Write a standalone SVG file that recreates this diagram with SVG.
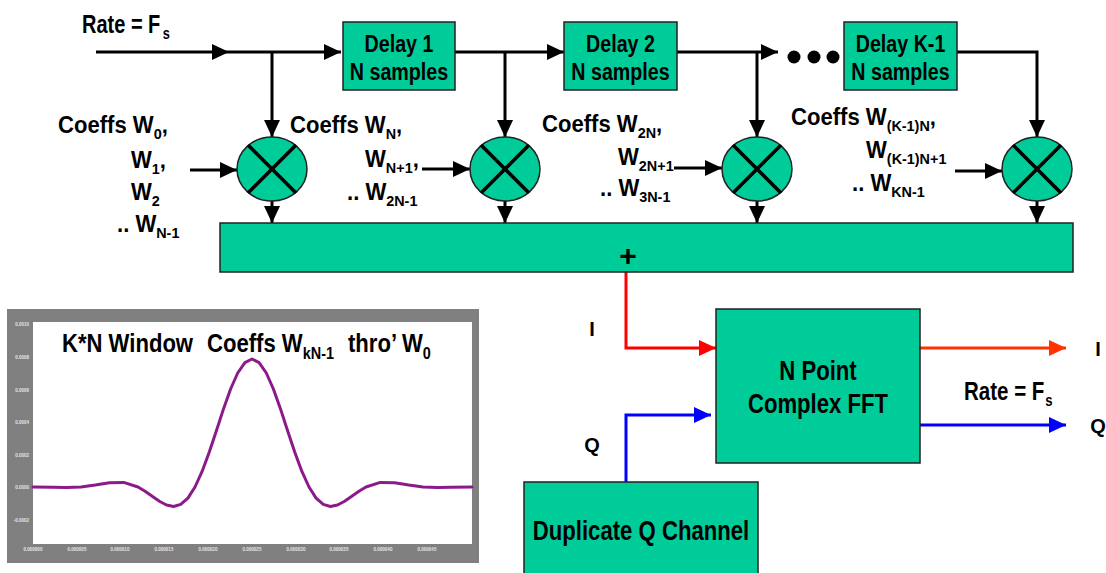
<svg xmlns="http://www.w3.org/2000/svg" width="1106" height="573" viewBox="0 0 1106 573">
<style>
.t{font-family:"Liberation Sans",Arial,sans-serif;font-weight:700;fill:#000}
.box{fill:#00CC99;stroke:#222;stroke-width:1.5}
.ln{fill:none;stroke:#000;stroke-width:3}
.xl{stroke:#000;stroke-width:3.5}
.tk{font-family:"Liberation Sans",Arial,sans-serif;font-size:4.5px;fill:#e6e6e6;font-weight:700}
</style>
<defs>
<marker id="ah" markerUnits="userSpaceOnUse" markerWidth="17" markerHeight="16" refX="17" refY="8" orient="auto"><path d="M0,0 L17,8 L0,16 z" fill="#000"/></marker>
<marker id="ahr" markerUnits="userSpaceOnUse" markerWidth="17" markerHeight="16" refX="17" refY="8" orient="auto"><path d="M0,0 L17,8 L0,16 z" fill="#FF0000"/></marker>
<marker id="aho" markerUnits="userSpaceOnUse" markerWidth="17" markerHeight="16" refX="17" refY="8" orient="auto"><path d="M0,0 L17,8 L0,16 z" fill="#FF3300"/></marker>
<marker id="ahb" markerUnits="userSpaceOnUse" markerWidth="17" markerHeight="16" refX="17" refY="8" orient="auto"><path d="M0,0 L17,8 L0,16 z" fill="#0000FF"/></marker>
</defs>
<rect width="1106" height="573" fill="#fff"/>

<g id="connectors">
<path class="ln" d="M96,52 H229" marker-end="url(#ah)"/>
<path class="ln" d="M229,52 H341" marker-end="url(#ah)"/>
<path class="ln" d="M272,52 V137" marker-end="url(#ah)"/>
<path class="ln" d="M455,52 H564" marker-end="url(#ah)"/>
<path class="ln" d="M505,52 V137" marker-end="url(#ah)"/>
<path class="ln" d="M677,52 H778" marker-end="url(#ah)"/>
<path class="ln" d="M757,52 V137" marker-end="url(#ah)"/>
<path class="ln" d="M957,52 H1037 V137" marker-end="url(#ah)"/>
<path class="ln" d="M190,170 H237" marker-end="url(#ah)"/>
<path class="ln" d="M422,169 H470" marker-end="url(#ah)"/>
<path class="ln" d="M674,168 H722" marker-end="url(#ah)"/>
<path class="ln" d="M955,171 H1002" marker-end="url(#ah)"/>
<path class="ln" d="M272,201 V223" marker-end="url(#ah)"/>
<path class="ln" d="M505,201 V223" marker-end="url(#ah)"/>
<path class="ln" d="M757,201 V223" marker-end="url(#ah)"/>
<path class="ln" d="M1037,201 V223" marker-end="url(#ah)"/>
<path d="M626,272 V348 H716" fill="none" stroke="#FF0000" stroke-width="3" marker-end="url(#ahr)"/>
<path d="M626,482 V415 H711" fill="none" stroke="#0000FF" stroke-width="3" marker-end="url(#ahb)"/>
<path d="M920,348 H1066" fill="none" stroke="#FF3300" stroke-width="3" marker-end="url(#aho)"/>
<path d="M920,425 H1066" fill="none" stroke="#0000FF" stroke-width="3" marker-end="url(#ahb)"/>
<circle cx="794" cy="57" r="6.5"/>
<circle cx="814" cy="57" r="6.5"/>
<circle cx="833" cy="57" r="6.5"/>
</g>

<g id="delay1">
<rect class="box" x="343" y="22" width="112" height="68"/>
<text class="t" font-size="24" text-anchor="middle" transform="translate(399,52) scale(0.82,1)">Delay 1</text>
<text class="t" font-size="24" text-anchor="middle" transform="translate(399,80) scale(0.82,1)">N samples</text>
</g>
<g id="delay2">
<rect class="box" x="564" y="22" width="113" height="68"/>
<text class="t" font-size="24" text-anchor="middle" transform="translate(620.5,52) scale(0.82,1)">Delay 2</text>
<text class="t" font-size="24" text-anchor="middle" transform="translate(620.5,80) scale(0.82,1)">N samples</text>
</g>
<g id="delayK1">
<rect class="box" x="844" y="22" width="113" height="68"/>
<text class="t" font-size="24" text-anchor="middle" transform="translate(900.5,52) scale(0.82,1)">Delay K-1</text>
<text class="t" font-size="24" text-anchor="middle" transform="translate(900.5,80) scale(0.82,1)">N samples</text>
</g>

<g id="mult1">
<ellipse class="box" cx="272" cy="169" rx="35" ry="32"/>
<line class="xl" x1="248" y1="145" x2="296" y2="193"/><line class="xl" x1="296" y1="145" x2="248" y2="193"/>
</g>
<g id="mult2">
<ellipse class="box" cx="505" cy="169" rx="35" ry="32"/>
<line class="xl" x1="481" y1="145" x2="529" y2="193"/><line class="xl" x1="529" y1="145" x2="481" y2="193"/>
</g>
<g id="mult3">
<ellipse class="box" cx="757" cy="169" rx="35" ry="32"/>
<line class="xl" x1="733" y1="145" x2="781" y2="193"/><line class="xl" x1="781" y1="145" x2="733" y2="193"/>
</g>
<g id="mult4">
<ellipse class="box" cx="1037" cy="169" rx="35" ry="32"/>
<line class="xl" x1="1013" y1="145" x2="1061" y2="193"/><line class="xl" x1="1061" y1="145" x2="1013" y2="193"/>
</g>

<g id="sum">
<rect class="box" x="220" y="223" width="853" height="49"/>
<text class="t" font-size="30" text-anchor="middle" x="628" y="266">+</text>
</g>

<g id="fft">
<rect class="box" x="716" y="309" width="204" height="154"/>
<text class="t" font-size="27" text-anchor="middle" transform="translate(818,380) scale(0.82,1)">N Point</text>
<text class="t" font-size="27" text-anchor="middle" transform="translate(818,413) scale(0.82,1)">Complex FFT</text>
</g>

<g id="dupq">
<rect class="box" x="524" y="482" width="234" height="100"/>
<text class="t" font-size="27" text-anchor="middle" transform="translate(641,540) scale(0.82,1)">Duplicate Q Channel</text>
</g>

<g id="labels">
<text class="t" font-size="25" transform="translate(82,33) scale(0.8,1)">Rate = F<tspan font-size="16" dx="3" dy="6">s</tspan></text>
<text class="t" font-size="25" transform="translate(964,400) scale(0.82,1)">Rate = F<tspan font-size="16" dx="1" dy="6">s</tspan></text>

<text class="t" font-size="23" transform="translate(58,133) scale(0.96,1)">Coeffs W<tspan font-size="15" dy="6">0</tspan><tspan dy="-6">,</tspan></text>
<text class="t" font-size="23" transform="translate(131,168) scale(0.96,1)">W<tspan font-size="15" dy="6">1</tspan><tspan dy="-6">,</tspan></text>
<text class="t" font-size="23" transform="translate(131,200) scale(0.96,1)">W<tspan font-size="15" dy="6">2</tspan></text>
<text class="t" font-size="23" transform="translate(117,232) scale(0.96,1)">.. W<tspan font-size="15" dy="6">N-1</tspan></text>

<text class="t" font-size="23" transform="translate(290,133) scale(0.96,1)">Coeffs W<tspan font-size="15" dy="6">N</tspan><tspan dy="-6">,</tspan></text>
<text class="t" font-size="23" transform="translate(365,167) scale(0.96,1)">W<tspan font-size="15" dy="6">N+1</tspan><tspan dy="-6">,</tspan></text>
<text class="t" font-size="23" transform="translate(347,200) scale(0.96,1)">.. W<tspan font-size="15" dy="6">2N-1</tspan></text>

<text class="t" font-size="23" transform="translate(542,132) scale(0.96,1)">Coeffs W<tspan font-size="15" dy="6">2N</tspan><tspan dy="-6">,</tspan></text>
<text class="t" font-size="23" transform="translate(618,165) scale(0.96,1)">W<tspan font-size="15" dy="6">2N+1</tspan></text>
<text class="t" font-size="23" transform="translate(600,196) scale(0.96,1)">.. W<tspan font-size="15" dy="6">3N-1</tspan></text>

<text class="t" font-size="23" transform="translate(791,125) scale(0.96,1)">Coeffs W<tspan font-size="15" dy="6">(K-1)N</tspan><tspan dy="-6">,</tspan></text>
<text class="t" font-size="23" transform="translate(866,158) scale(0.96,1)">W<tspan font-size="15" dy="6">(K-1)N+1</tspan></text>
<text class="t" font-size="23" transform="translate(852,191) scale(0.96,1)">.. W<tspan font-size="15" dy="6">KN-1</tspan></text>

<text class="t" font-size="20" text-anchor="middle" x="592" y="336">I</text>
<text class="t" font-size="20" text-anchor="middle" x="592" y="452">Q</text>
<text class="t" font-size="20" text-anchor="middle" x="1098" y="356">I</text>
<text class="t" font-size="20" text-anchor="middle" x="1098" y="433">Q</text>
</g>

<g id="chart">
<rect x="7" y="309" width="472" height="254" fill="#808080"/>
<rect x="33" y="322" width="439" height="222" fill="#fff"/>
<g class="tk" text-anchor="end">
<text x="29" y="325.5">0.0010</text>
<text x="29" y="358.5">0.0008</text>
<text x="29" y="391.5">0.0006</text>
<text x="29" y="423.5">0.0004</text>
<text x="29" y="456.5">0.0002</text>
<text x="29" y="488.5">0.0000</text>
<text x="29" y="521.5">-0.0002</text>
</g>
<g class="tk" text-anchor="middle">
<text x="33" y="551">0.000000</text>
<text x="77" y="551">0.000005</text>
<text x="120" y="551">0.000010</text>
<text x="164" y="551">0.000015</text>
<text x="208" y="551">0.000020</text>
<text x="252" y="551">0.000025</text>
<text x="296" y="551">0.000030</text>
<text x="339" y="551">0.000035</text>
<text x="383" y="551">0.000040</text>
<text x="427" y="551">0.000045</text>
</g>
<polyline fill="none" stroke="#8B1A8B" stroke-width="3" stroke-linejoin="round" stroke-linecap="round" points="33,487 52.5,487.2 66.7,487.5 81,487 95.2,485.1 109.5,482.7 123.7,482.4 138,487 145.1,491.2 152.2,496.2 159.4,501.2 166.5,505 173.6,506.5 180.7,504.4 187.9,498.1 195,487 202.1,471.4 209.2,452.2 216.4,430.7 223.5,408.9 230.6,389 237.7,373 244.9,362.6 252,359 259.1,362.6 266.3,373 273.4,389 280.5,408.9 287.6,430.7 294.8,452.2 301.9,471.4 309,487 316.1,498.1 323.3,504.4 330.4,506.5 337.5,505 344.6,501.2 351.8,496.2 358.9,491.2 366,487 380.3,482.4 394.5,482.7 408.8,485.1 423,487 437.3,487.5 451.5,487.2 472,487"/>
<text class="t" font-size="26" transform="translate(62,352) scale(0.85,1)">K*N Window</text>
<text class="t" font-size="26" transform="translate(207,352) scale(0.85,1)">Coeffs W<tspan font-size="17" dy="7">kN-1</tspan></text>
<text class="t" font-size="26" transform="translate(348,352) scale(0.85,1)">thro’ W<tspan font-size="17" dy="7">0</tspan></text>
</g>
</svg>
